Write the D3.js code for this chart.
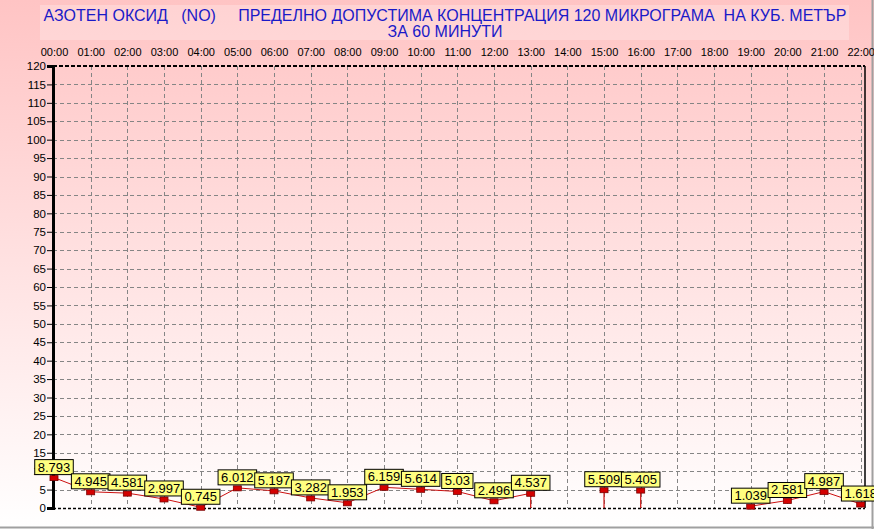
<!DOCTYPE html>
<html><head><meta charset="utf-8">
<script src="https://cdn.jsdelivr.net/npm/d3@7"></script>
<style>body{margin:0;background:#fff}svg{display:block}</style>
</head><body>
<svg id="c" width="874" height="529"></svg>
<script>
const titleLines = [
  "АЗОТЕН ОКСИД   (NO)     ПРЕДЕЛНО ДОПУСТИМА КОНЦЕНТРАЦИЯ 120 МИКРОГРАМА  НА КУБ. МЕТЪР",
  "ЗА 60 МИНУТИ"
];
const hours = ["00:00","01:00","02:00","03:00","04:00","05:00","06:00","07:00","08:00","09:00","10:00","11:00","12:00","13:00","14:00","15:00","16:00","17:00","18:00","19:00","20:00","21:00","22:00"];
const values = [8.793,4.945,4.581,2.997,0.745,6.012,5.197,3.282,1.953,6.159,5.614,5.03,2.496,4.537,null,5.509,5.405,null,null,1.039,2.581,4.987,1.618];
const breaksAfter = ["13:00","15:00","16:00"];
const yTicks = d3.range(0,121,5);

(function(){
const svg = d3.select("#c");
const W = 874, H = 529;
const defs = svg.append("defs");
const g = defs.append("linearGradient").attr("id","bg").attr("x1",0).attr("y1",0).attr("x2",0).attr("y2",1);
g.append("stop").attr("offset","0%").attr("stop-color","#ffc4c4");
g.append("stop").attr("offset","100%").attr("stop-color","#ffffff");
svg.append("rect").attr("width",W).attr("height",H).attr("fill","url(#bg)");
svg.append("line").attr("x1",0).attr("x2",W).attr("y1",527.5).attr("y2",527.5).attr("stroke","#a0a0a0").attr("stroke-width",2);
svg.append("line").attr("x1",872.5).attr("x2",872.5).attr("y1",0).attr("y2",H).attr("stroke","#a0a0a0").attr("stroke-width",2);

svg.append("rect").attr("x",40).attr("y",5).attr("width",809).attr("height",35).attr("fill","#ffffff").attr("fill-opacity",0.25);
svg.selectAll("text.title").data(titleLines).join("text").attr("class","title")
  .attr("x",445).attr("y",(d,i)=>21+i*16).attr("text-anchor","middle")
  .attr("font-family","Liberation Sans, Arial, sans-serif").attr("font-size",16)
  .attr("fill","#1a1ac8").style("white-space","pre").attr("xml:space","preserve").text(d=>d);

const x = d3.scalePoint().domain(hours).range([54, 860.7]);
const y = d3.scaleLinear().domain([0,120]).range([508, 66]);
const pL = 53, pR = 865, pT = 66, pB = 508;

const grid = svg.append("g").attr("stroke","#858585").attr("stroke-width",1).attr("stroke-dasharray","4,3");
grid.selectAll("line.h").data(yTicks.filter(v=>v>0&&v<120)).join("line").attr("class","h")
  .attr("x1",pL).attr("x2",pR).attr("y1",d=>Math.round(y(d))+0.5).attr("y2",d=>Math.round(y(d))+0.5);
grid.selectAll("line.v").data(hours).join("line").attr("class","v")
  .attr("x1",d=>Math.round(x(d))+0.5).attr("x2",d=>Math.round(x(d))+0.5).attr("y1",pT).attr("y2",pB);

svg.append("line").attr("x1",pL).attr("x2",pR).attr("y1",pT).attr("y2",pT)
  .attr("stroke","#000").attr("stroke-width",2).attr("stroke-dasharray","4,2");
svg.append("line").attr("x1",pL).attr("x2",pR).attr("y1",pB+0.5).attr("y2",pB+0.5)
  .attr("stroke","#000").attr("stroke-width",1.5).attr("stroke-dasharray","3,2");
svg.append("line").attr("x1",pR).attr("x2",pR).attr("y1",pT).attr("y2",pB)
  .attr("stroke","#000").attr("stroke-width",1.5);

const yAxis = d3.axisLeft(y).tickValues(yTicks).tickSize(6).tickPadding(1).tickFormat(d3.format("d"));
const ya = svg.append("g").attr("transform",`translate(${pL},0)`).call(yAxis);
ya.select(".domain").attr("stroke","#000").attr("stroke-width",3);
ya.selectAll(".tick line").attr("stroke","#000");
ya.selectAll(".tick text").attr("font-family","Liberation Sans, Arial, sans-serif").attr("font-size",11.5).attr("fill","#000");

const xAxis = d3.axisTop(x).tickSize(0).tickPadding(0);
const xa = svg.append("g").attr("transform",`translate(0,56)`).call(xAxis);
xa.select(".domain").remove();
xa.selectAll(".tick text").attr("font-family","Liberation Sans, Arial, sans-serif").attr("font-size",11).attr("fill","#000");

const pts = hours.map((h,i)=>({h, v: values[i], i})).filter(d=>d.v!==null);
const lineColor = "#cc1010";
const segs = [];
for (let i=0;i<hours.length-1;i++){
  if (values[i]!==null && values[i+1]!==null && !breaksAfter.includes(hours[i])) segs.push([i,i+1]);
}
svg.append("g").selectAll("line").data(segs).join("line")
  .attr("x1",d=>x(hours[d[0]])).attr("y1",d=>y(values[d[0]])+2)
  .attr("x2",d=>x(hours[d[1]])).attr("y2",d=>y(values[d[1]])+2)
  .attr("stroke",lineColor).attr("stroke-width",1);
const stems = pts.filter(d => (d.i>0 && values[d.i-1]===null) || (d.i<hours.length-1 && values[d.i+1]===null));
svg.append("g").selectAll("line").data(stems).join("line")
  .attr("x1",d=>x(d.h)).attr("x2",d=>x(d.h)).attr("y1",d=>y(d.v)+2).attr("y2",pB)
  .attr("stroke",lineColor).attr("stroke-width",1.2);
svg.append("g").selectAll("rect").data(pts).join("rect")
  .attr("x",d=>x(d.h)-4).attr("y",d=>y(d.v)).attr("width",8).attr("height",5)
  .attr("fill","#d40000").attr("stroke","#7a0000").attr("stroke-width",0.8);
const lab = svg.append("g").selectAll("g").data(pts).join("g");
lab.each(function(d){
  const gg = d3.select(this);
  const t = gg.append("text").attr("font-family","Liberation Sans, Arial, sans-serif").attr("font-size",13)
    .attr("text-anchor","middle").attr("fill","#000").text(String(d.v));
  const w = t.node().getComputedTextLength() + 6;
  const cx = x(d.h), by = y(d.v) - 1;
  gg.insert("rect","text").attr("x",cx - w/2).attr("y",by-15).attr("width",w).attr("height",15)
    .attr("fill","#ffff80").attr("stroke","#000").attr("stroke-width",1);
  t.attr("x",cx).attr("y",by-3);
});
})();
</script>
</body></html>
